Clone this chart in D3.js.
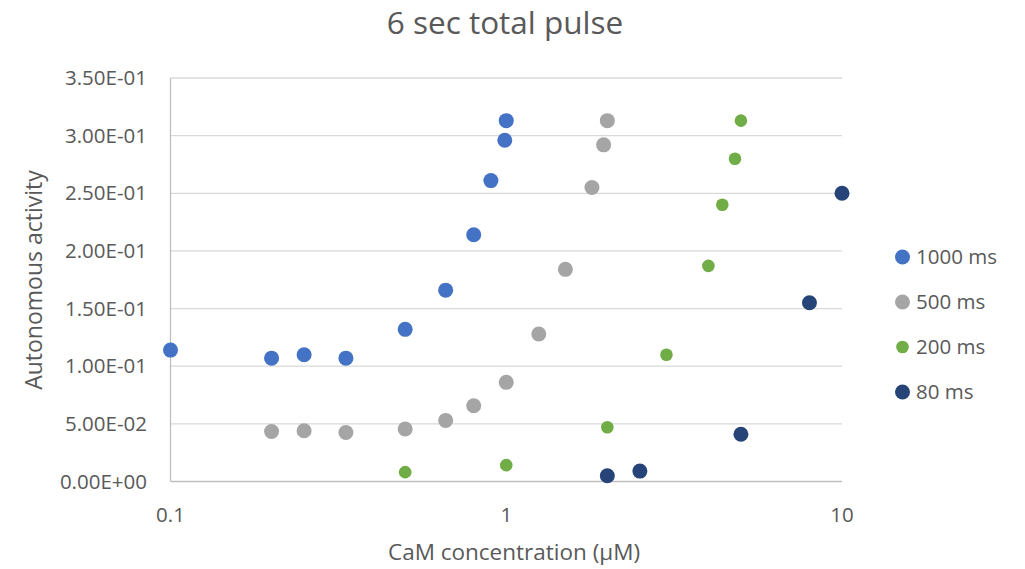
<!DOCTYPE html>
<html>
<head>
<meta charset="utf-8">
<script src="https://cdn.jsdelivr.net/npm/d3@7"></script>
<style>
  html, body { margin: 0; padding: 0; background: #fff; }
  svg { display: block; }
  text { font-family: "Open Sans", "Noto Sans", sans-serif; fill: #595959; }
</style>
</head>
<body>
<svg id="chart" width="1025" height="569"></svg>
<script>
// CaM concentration (µM) and autonomous activity for each pulse duration
const x1000 = [0.1, 0.2, 0.25, 0.333, 0.5, 0.66, 0.8, 0.9, 0.99, 1.0];
const y1000 = [0.114, 0.107, 0.110, 0.107, 0.132, 0.166, 0.214, 0.261, 0.296, 0.313];

const x500 = [0.2, 0.25, 0.333, 0.5, 0.66, 0.8, 1.0, 1.25, 1.5, 1.8, 1.95, 2.0];
const y500 = [0.0434, 0.044, 0.0425, 0.0455, 0.053, 0.0657, 0.086, 0.128, 0.184, 0.255, 0.292, 0.313];

const x200 = [0.5, 1.0, 2.0, 3.0, 4.0, 4.4, 4.8, 5.0];
const y200 = [0.0081, 0.0142, 0.047, 0.110, 0.187, 0.240, 0.280, 0.313];

const x80 = [2.0, 2.5, 5.0, 8.0, 10.0];
const y80 = [0.005, 0.009, 0.041, 0.155, 0.250];

const seriesNames = ["1000 ms", "500 ms", "200 ms", "80 ms"];
const seriesColors = ["#4472C4", "#A5A5A5", "#70AD47", "#264478"];
const seriesRadius = [7.5, 7.5, 6.3, 7.5];

const yTicks = [0, 0.05, 0.10, 0.15, 0.20, 0.25, 0.30, 0.35];
const xTicks = [0.1, 1, 10];

const title = "6 sec total pulse";
const xTitle = "CaM concentration (\u00B5M)";
const yTitle = "Autonomous activity";

const seriesX = [x1000, x500, x200, x80];
const seriesY = [y1000, y500, y200, y80];

const svg = d3.select("#chart");
const plot = { left: 170.5, right: 842, top: 78, bottom: 481.5 };

const x = d3.scaleLog().domain([0.1, 10]).range([plot.left, plot.right]);
const y = d3.scaleLinear().domain([0, 0.35]).range([plot.bottom, plot.top]);

// horizontal gridlines
svg.append("g")
  .selectAll("line")
  .data(yTicks.filter(d => d > 0))
  .join("line")
  .attr("x1", plot.left).attr("x2", plot.right)
  .attr("y1", d => y(d)).attr("y2", d => y(d))
  .attr("stroke", "#D9D9D9").attr("stroke-width", 1.3);

// axis lines
svg.append("line")
  .attr("x1", plot.left).attr("x2", plot.right)
  .attr("y1", y(0)).attr("y2", y(0))
  .attr("stroke", "#BFBFBF").attr("stroke-width", 1.3);
svg.append("line")
  .attr("x1", plot.left).attr("x2", plot.left)
  .attr("y1", y(0)).attr("y2", y(0.35))
  .attr("stroke", "#BFBFBF").attr("stroke-width", 1.3);

// y tick labels in scientific notation, e.g. 3.50E-01
const fmtExp = d => {
  const s = d3.format(".2e")(d);
  const m = s.match(/^(-?[\d.]+)e([+-])(\d+)$/);
  return m[1] + "E" + m[2] + m[3].padStart(2, "0");
};
svg.append("g")
  .selectAll("text")
  .data(yTicks)
  .join("text")
  .attr("x", 147)
  .attr("y", d => y(d))
  .attr("dy", "0.35em")
  .attr("text-anchor", "end")
  .attr("font-size", 20.5)
  .text(fmtExp);

// x tick labels
svg.append("g")
  .selectAll("text")
  .data(xTicks)
  .join("text")
  .attr("x", d => x(d))
  .attr("y", 515)
  .attr("dy", "0.35em")
  .attr("text-anchor", "middle")
  .attr("font-size", 20.5)
  .text(d => String(d));

// titles
svg.append("text")
  .attr("x", 505).attr("y", 22.5).attr("dy", "0.35em")
  .attr("text-anchor", "middle")
  .attr("font-size", 31.5)
  .text(title);

svg.append("text")
  .attr("x", 514).attr("y", 552).attr("dy", "0.35em")
  .attr("text-anchor", "middle")
  .attr("font-size", 22.5)
  .text(xTitle);

svg.append("text")
  .attr("transform", "translate(34,280) rotate(-90)")
  .attr("dy", "0.35em")
  .attr("text-anchor", "middle")
  .attr("font-size", 23)
  .text(yTitle);

// points
seriesNames.forEach((name, i) => {
  const pts = seriesX[i].map((v, j) => [v, seriesY[i][j]]);
  svg.append("g")
    .selectAll("circle")
    .data(pts)
    .join("circle")
    .attr("cx", d => x(d[0]))
    .attr("cy", d => y(d[1]))
    .attr("r", seriesRadius[i])
    .attr("fill", seriesColors[i]);
});

// legend
const legend = svg.append("g");
seriesNames.forEach((name, i) => {
  const ly = 257 + i * 45;
  legend.append("circle")
    .attr("cx", 902.5).attr("cy", ly)
    .attr("r", seriesRadius[i])
    .attr("fill", seriesColors[i]);
  legend.append("text")
    .attr("x", 916).attr("y", ly).attr("dy", "0.35em")
    .attr("font-size", 20.5)
    .text(name);
});
</script>
</body>
</html>
